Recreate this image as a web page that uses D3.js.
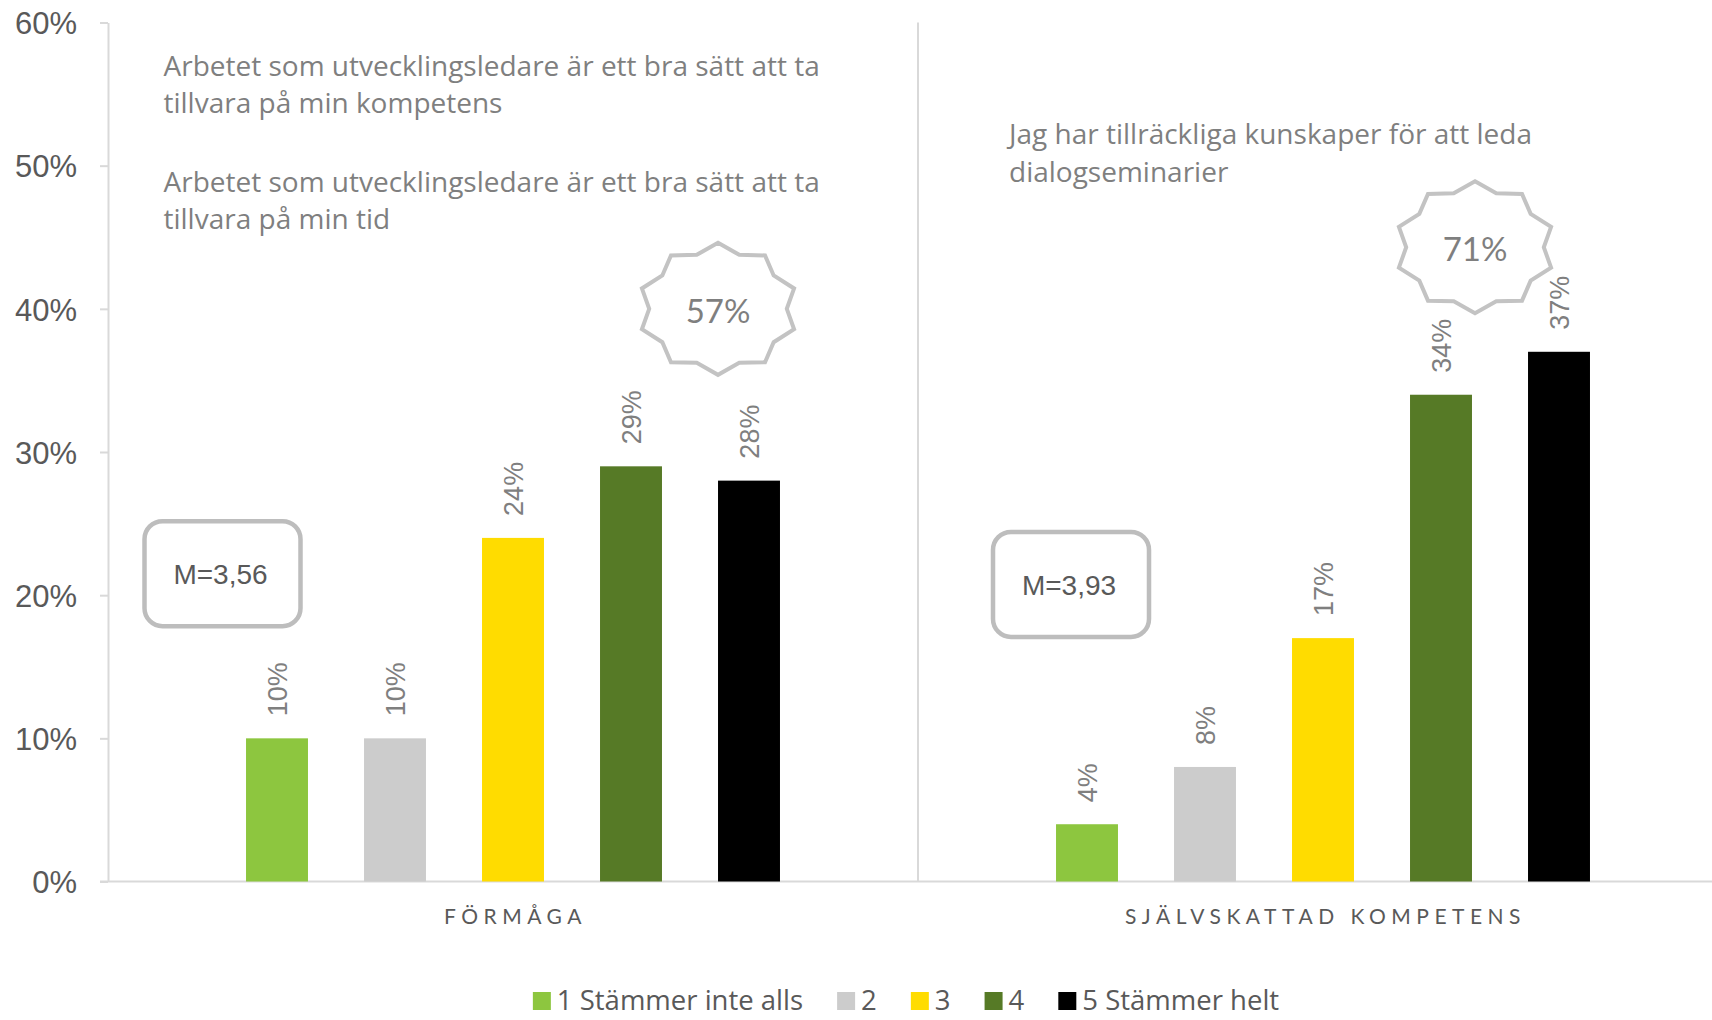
<!DOCTYPE html>
<html>
<head>
<meta charset="utf-8">
<script src="https://cdn.jsdelivr.net/npm/d3@7"></script>
<style>
  html, body { margin: 0; padding: 0; background: #ffffff; }
  svg { display: block; }
</style>
</head>
<body>
<svg id="chart" width="1712" height="1020"></svg>
<script>
// ---------- data ----------
const categories = ["FÖRMÅGA", "SJÄLVSKATTAD KOMPETENS"];
const seriesNames = ["1 Stämmer inte alls", "2", "3", "4", "5 Stämmer helt"];
const seriesColors = ["#8dc63f", "#cccccc", "#ffdc00", "#567a26", "#000000"];
const formagaValues = [10, 10, 24, 29, 28];
const kompetensValues = [4, 8, 17, 34, 37];
const yTickValues = [0, 10, 20, 30, 40, 50, 60];
const meanLabels = ["M=3,56", "M=3,93"];
const topTwoLabels = ["57%", "71%"];
const leftStatements = [
  ["Arbetet som utvecklingsledare är ett bra sätt att ta", "tillvara på min kompetens"],
  ["Arbetet som utvecklingsledare är ett bra sätt att ta", "tillvara på min tid"]
];
const rightStatements = [
  ["Jag har tillräckliga kunskaper för att leda", "dialogseminarier"]
];

const valuesByCategory = [formagaValues, kompetensValues];

// ---------- layout ----------
const svg = d3.select("#chart");
const plotLeft = 108, plotRight = 1728, plotTop = 22.5, plotBottom = 881.5;

const x0 = d3.scaleBand().domain(categories).range([plotLeft, plotRight]).padding(0);
const x1 = d3.scaleBand().domain(seriesNames).range([-295, 295]).paddingInner(0.475).paddingOuter(0.2375);
const y = d3.scaleLinear().domain([0, 60]).range([plotBottom, plotTop]);

const sansCal = "Lato, 'Open Sans', sans-serif";
const sansOpen = "'Open Sans', 'Noto Sans', sans-serif";
const sansArial = "'Liberation Sans', Arial, sans-serif";

// y axis
const yAxis = d3.axisLeft(y).tickValues(yTickValues).tickFormat(d => d + "%")
  .tickSize(8).tickSizeOuter(0).tickPadding(23);
const gy = svg.append("g").attr("transform", `translate(${plotLeft},0)`).call(yAxis);
gy.select(".domain").attr("stroke", "#d9d9d9").attr("stroke-width", 2);
gy.selectAll(".tick line").attr("stroke", "#d9d9d9").attr("stroke-width", 2);
gy.selectAll(".tick text").attr("fill", "#595959").attr("font-family", sansArial)
  .attr("font-size", 31).attr("dy", "0.36em");

// divider between categories
categories.slice(1).forEach(c => {
  svg.append("line").attr("x1", x0(c)).attr("x2", x0(c))
    .attr("y1", plotTop).attr("y2", plotBottom)
    .attr("stroke", "#d9d9d9").attr("stroke-width", 2);
});

// x axis line
svg.append("line").attr("x1", plotLeft - 8).attr("x2", plotRight)
  .attr("y1", plotBottom).attr("y2", plotBottom)
  .attr("stroke", "#d9d9d9").attr("stroke-width", 2);

// bars
const groups = svg.selectAll("g.cat").data(categories).enter().append("g")
  .attr("class", "cat")
  .attr("transform", c => `translate(${x0(c) + x0.bandwidth() / 2},0)`);

groups.each(function (c, ci) {
  const g = d3.select(this);
  const vals = valuesByCategory[ci].map((v, i) => ({ name: seriesNames[i], v, color: seriesColors[i] }));
  g.selectAll("rect").data(vals).enter().append("rect")
    .attr("x", d => x1(d.name))
    .attr("width", x1.bandwidth())
    .attr("y", d => y(d.v))
    .attr("height", d => y(0) - y(d.v))
    .attr("fill", d => d.color);
  g.selectAll("text.val").data(vals).enter().append("text")
    .attr("class", "val")
    .attr("transform", d => `translate(${x1(d.name) + x1.bandwidth() / 2},${y(d.v) - 22}) rotate(-90)`)
    .attr("dy", "0.36em")
    .attr("text-anchor", "start")
    .attr("font-family", sansArial)
    .attr("font-size", 27)
    .attr("fill", "#7f7f7f")
    .text(d => d.v + "%");
  // category label
  g.append("text")
    .attr("x", 2.5).attr("y", 924)
    .attr("text-anchor", "middle")
    .attr("font-family", sansCal)
    .attr("font-size", 21)
    .attr("letter-spacing", 5.5)
    .attr("fill", "#595959")
    .text(c);
});

// statements
function drawLines(lines, x, y0, lh) {
  const t = svg.append("text").attr("font-family", sansOpen).attr("font-size", 28).attr("fill", "#7f7f7f");
  lines.forEach((l, i) => t.append("tspan").attr("x", x).attr("y", y0 + i * lh).text(l));
}
drawLines(leftStatements[0], 163.5, 76, 37);
drawLines(leftStatements[1], 163.5, 192, 37);
drawLines(rightStatements[0], 1009, 144, 38);

// mean boxes
const boxPos = [{ dx: -290.5, v: 21.5 }, { dx: -252, v: 20.75 }];
categories.forEach((c, i) => {
  const cx = x0(c) + x0.bandwidth() / 2 + boxPos[i].dx;
  const cy = y(boxPos[i].v);
  const bw = 156, bh = 105;
  svg.append("rect").attr("x", cx - bw / 2).attr("y", cy - bh / 2)
    .attr("width", bw).attr("height", bh).attr("rx", 18).attr("ry", 18)
    .attr("fill", "#ffffff").attr("stroke", "#bdbdbd").attr("stroke-width", 4.5);
  svg.append("text").attr("x", cx - 2).attr("y", cy).attr("dy", "0.36em")
    .attr("text-anchor", "middle").attr("font-family", sansArial).attr("font-size", 28)
    .attr("fill", "#595959").text(meanLabels[i]);
});

// stars
const starPos = [{ dx: 205, v: 40 }, { dx: 152, v: 44.3 }];
function starPath(cx, cy, rx, ry, inner, n) {
  const pts = [];
  for (let k = 0; k < 2 * n; k++) {
    const a = -Math.PI / 2 + k * Math.PI / n;
    const r = k % 2 === 0 ? 1 : inner;
    pts.push([cx + rx * r * Math.cos(a), cy + ry * r * Math.sin(a)]);
  }
  return "M" + pts.map(p => p.join(",")).join("L") + "Z";
}
categories.forEach((c, i) => {
  const cx = x0(c) + x0.bandwidth() / 2 + starPos[i].dx;
  const cy = y(starPos[i].v);
  svg.append("path").attr("d", starPath(cx, cy, 80, 66, 0.86, 10))
    .attr("fill", "#ffffff").attr("stroke", "#c3c3c3").attr("stroke-width", 4)
    .attr("stroke-linejoin", "miter");
  svg.append("text").attr("x", cx).attr("y", cy + 2).attr("dy", "0.36em")
    .attr("text-anchor", "middle").attr("font-family", sansCal).attr("font-size", 33)
    .attr("fill", "#7f7f7f").text(topTwoLabels[i]);
});

// legend
const legend = svg.append("g");
let lx = 0;
seriesNames.forEach((n, i) => {
  const g = legend.append("g").attr("transform", `translate(${lx},0)`);
  g.append("rect").attr("x", 0).attr("y", -8).attr("width", 18).attr("height", 18).attr("fill", seriesColors[i]);
  const t = g.append("text").attr("x", 24).attr("y", 0).attr("dy", "0.36em")
    .attr("font-family", sansOpen).attr("font-size", 27.5).attr("fill", "#595959").text(n);
  const w = t.node().getComputedTextLength();
  lx += 24 + w + 34;
});
const legendW = lx - 34;
legend.attr("transform", `translate(${906 - legendW / 2},1000)`);
</script>
</body>
</html>
